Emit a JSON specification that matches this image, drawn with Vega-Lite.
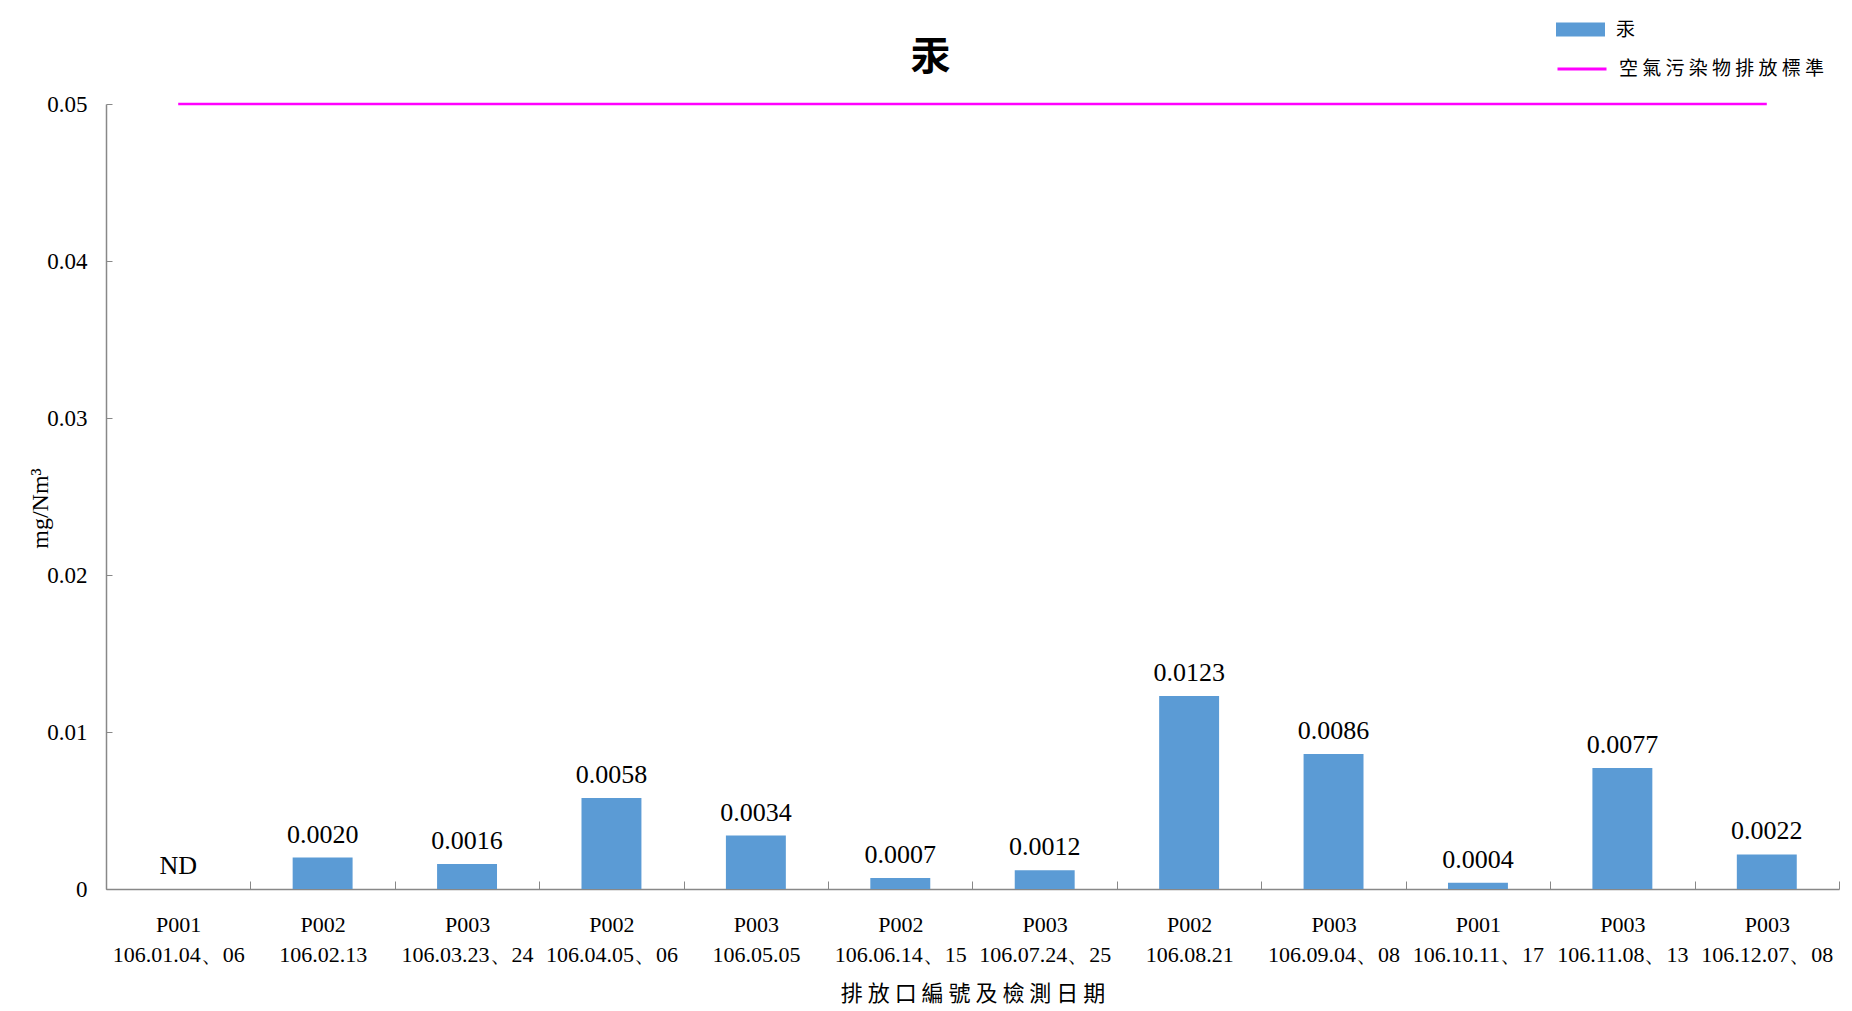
{
  "$schema": "https://vega.github.io/schema/vega-lite/v6.json",
  "autosize": {"type": "none"},
  "width": 1733,
  "height": 785,
  "padding": {"left": 106, "top": 104, "right": 13, "bottom": 122},
  "background": "white",
  "title": {
    "text": "汞",
    "font": "Noto Sans CJK TC",
    "fontSize": 40,
    "fontWeight": "bold",
    "color": "black",
    "anchor": "middle",
    "frame": "group",
    "dx": -42,
    "offset": 0,
    "dy": 113,
    "baseline": "bottom"
  },
  "config": {
    "view": {"stroke": null},
    "axis": {"grid": false}
  },
  "data": {
    "values": [
      {"cat": "P001|106.01.04、06", "value": 0, "label": "ND", "limit": 0.05},
      {"cat": "P002|106.02.13", "value": 0.0020, "label": "0.0020", "limit": 0.05},
      {"cat": "P003|106.03.23、24", "value": 0.0016, "label": "0.0016", "limit": 0.05},
      {"cat": "P002|106.04.05、06", "value": 0.0058, "label": "0.0058", "limit": 0.05},
      {"cat": "P003|106.05.05", "value": 0.0034, "label": "0.0034", "limit": 0.05},
      {"cat": "P002|106.06.14、15", "value": 0.0007, "label": "0.0007", "limit": 0.05},
      {"cat": "P003|106.07.24、25", "value": 0.0012, "label": "0.0012", "limit": 0.05},
      {"cat": "P002|106.08.21", "value": 0.0123, "label": "0.0123", "limit": 0.05},
      {"cat": "P003|106.09.04、08", "value": 0.0086, "label": "0.0086", "limit": 0.05},
      {"cat": "P001|106.10.11、17", "value": 0.0004, "label": "0.0004", "limit": 0.05},
      {"cat": "P003|106.11.08、13", "value": 0.0077, "label": "0.0077", "limit": 0.05},
      {"cat": "P003|106.12.07、08", "value": 0.0022, "label": "0.0022", "limit": 0.05}
    ]
  },
  "encoding": {
    "x": {
      "field": "cat",
      "type": "nominal",
      "sort": null,
      "scale": {"paddingInner": 0, "paddingOuter": 0},
      "axis": {
        "title": "排 放 口 編 號 及 檢 測 日 期",
        "titleFont": "Noto Sans CJK TC",
        "titleFontSize": 22,
        "titleFontWeight": "normal",
        "titleColor": "black",
        "titlePadding": 18,
        "labelExpr": "datum.value ? split(datum.value, '|') : ''",
        "labelAngle": 0,
        "labelFont": "Liberation Serif",
        "labelFontSize": 22,
        "labelColor": "black",
        "labelLineHeight": 30,
        "labelPadding": 33,
        "labelBaseline": "top",
        "tickBand": "extent",
        "tickSize": -8,
        "tickColor": "#888888",
        "domainColor": "#888888",
        "domainWidth": 1.5
      }
    }
  },
  "layer": [
    {
      "mark": {"type": "bar", "fill": "#5B9BD5", "width": {"band": 0.415}},
      "encoding": {
        "y": {
          "field": "value",
          "type": "quantitative",
          "scale": {"domain": [0, 0.05], "nice": false},
          "axis": {
            "title": "mg/Nm³",
            "titleFont": "Liberation Serif",
            "titleFontSize": 24,
            "titleFontWeight": "normal",
            "titleColor": "black",
            "titleX": -59,
            "titleY": 404,
            "titleAngle": -90,
            "titleAlign": "center",
            "titleBaseline": "alphabetic",
            "values": [0, 0.01, 0.02, 0.03, 0.04, 0.05],
            "format": "~g",
            "labelFont": "Liberation Serif",
            "labelFontSize": 23,
            "labelColor": "black",
            "labelPadding": 25,
            "tickSize": -6,
            "tickColor": "#888888",
            "domainColor": "#888888",
            "domainWidth": 1.5
          }
        },
        "fill": {
          "datum": "汞",
          "type": "nominal",
          "scale": {"range": ["#5B9BD5"]},
          "legend": {
            "orient": "none",
            "legendX": 1450,
            "legendY": -99,
            "title": null,
            "padding": 0,
            "symbolType": "M-1,-0.2857H1V0.2857H-1Z",
            "symbolSize": 2401,
            "symbolStrokeWidth": 0,
            "labelFont": "Noto Sans CJK TC",
            "labelFontSize": 19,
            "labelColor": "black",
            "labelOffset": 11,
            "labelLimit": 0
          }
        }
      }
    },
    {
      "mark": {"type": "text", "baseline": "alphabetic", "dy": -15, "font": "Liberation Serif", "fontSize": 26, "color": "black"},
      "encoding": {
        "y": {"field": "value", "type": "quantitative"},
        "text": {"field": "label"}
      }
    },
    {
      "mark": {"type": "line", "strokeWidth": 2.5},
      "encoding": {
        "y": {"field": "limit", "type": "quantitative"},
        "stroke": {
          "datum": "空 氣 污 染 物 排 放 標 準",
          "type": "nominal",
          "scale": {"range": ["#FF00FF"]},
          "legend": {
            "orient": "none",
            "legendX": 1450,
            "legendY": -61,
            "title": null,
            "padding": 0,
            "symbolType": "stroke",
            "symbolSize": 2401,
            "symbolStrokeWidth": 3,
            "labelFont": "Noto Sans CJK TC",
            "labelFontSize": 19,
            "labelColor": "black",
            "labelOffset": 11,
            "labelLimit": 0
          }
        }
      }
    }
  ]
}
